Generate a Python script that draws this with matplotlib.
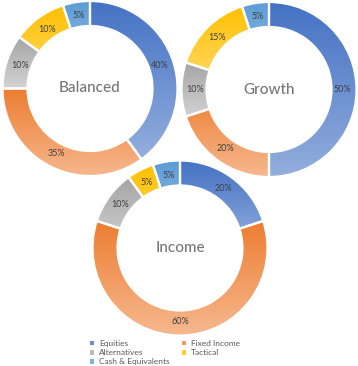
import numpy as np
import matplotlib
matplotlib.use("Agg")
import matplotlib.pyplot as plt
from matplotlib.colors import LinearSegmentedColormap
from matplotlib.patches import Patch

plt.rcParams["font.family"] = ["Lato", "DejaVu Sans"]

categories = ["Equities", "Fixed Income", "Alternatives", "Tactical", "Cash & Equivalents"]
portfolios = ["Balanced", "Growth", "Income"]
balanced = [40, 35, 10, 10, 5]
growth = [50, 20, 10, 15, 5]
income = [20, 60, 10, 5, 5]

# dark (top) -> light (bottom) gradient per category
dark = ["#4472C4", "#ED7D31", "#A5A5A5", "#FFC000", "#5B9BD5"]
light = ["#94AEDD", "#F6B88E", "#D2D2D2", "#FFDB6E", "#A6C8E8"]
legend_colors = ["#6A8FD0", "#F19A5E", "#BBBBBB", "#FFCD38", "#7FB2DF"]

W, H = 358, 366
fig = plt.figure(figsize=(W / 100, H / 100), dpi=100)
ax = fig.add_axes([0, 0, 1, 1])

centers = [(90, H - 88.5), (269, H - 89.5), (180, H - 248)]
radius = 87.5
ring = 25


def donut(values, center, name, z):
    wedges, texts, autotexts = ax.pie(
        values, startangle=90, counterclock=False, radius=radius,
        center=center, autopct=lambda p: f"{p:.0f}%", pctdistance=0.84,
        wedgeprops=dict(width=ring, edgecolor="white", linewidth=1.6,
                        facecolor="none", zorder=z + 1),
        textprops=dict(fontsize=6.5, color="#404040"), frame=True)
    for i, w in enumerate(wedges):
        v = w.get_path().vertices
        cmap = LinearSegmentedColormap.from_list("g", [dark[i], light[i]])
        grad = np.linspace(0, 1, 128).reshape(-1, 1)
        im = ax.imshow(grad, cmap=cmap, aspect="auto", origin="upper",
                       extent=(v[:, 0].min(), v[:, 0].max(), v[:, 1].min(), v[:, 1].max()),
                       zorder=z, interpolation="bilinear")
        im.set_clip_path(w)
    for t in autotexts:
        t.set_zorder(z + 2)
    ax.text(center[0], center[1], name, ha="center", va="center",
            fontsize=11, fontweight="medium", color="#767676", zorder=z + 2)


donut(balanced, centers[0], portfolios[0], 1)
donut(growth, centers[1], portfolios[1], 4)
donut(income, centers[2], portfolios[2], 7)

ax.set_xlim(0, W)
ax.set_ylim(0, H)
ax.set_aspect("auto")
ax.axis("off")

order = [0, 2, 4, 1, 3]
handles = [Patch(facecolor=legend_colors[i], edgecolor="none", label=categories[i]) for i in order]
fig.legend(handles=handles, ncol=2, frameon=False, fontsize=6,
           loc="upper left", bbox_to_anchor=(86 / W, 1 - 336 / H),
           handlelength=0.45, handleheight=0.45, handletextpad=0.6,
           columnspacing=1.5, labelspacing=0.25, borderpad=0,
           labelcolor="#595959")

fig.savefig("out.png", dpi=100)
